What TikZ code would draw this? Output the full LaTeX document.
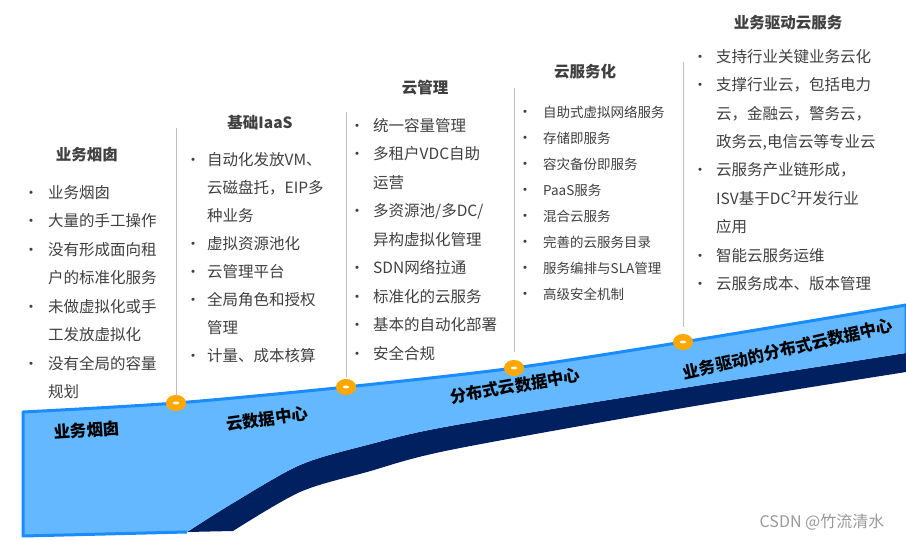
\documentclass[tikz,border=0pt]{standalone}
\usepackage{fontspec}
\setmainfont{Noto Sans CJK SC}
\usetikzlibrary{shapes.geometric}
\definecolor{lightblue}{HTML}{63B8FF}
\definecolor{edgeblue}{HTML}{1A8CFF}
\definecolor{navyblue}{HTML}{002060}
\definecolor{markorange}{HTML}{FFA800}
\definecolor{txt}{HTML}{404040}
\definecolor{sepgray}{HTML}{BFBFBF}
\newcommand\bulletmark{{\fontsize{15}{15}\selectfont •}}
\newcommand\bi[1]{\makebox[0pt][c]{\bulletmark}\hspace*{#1}}
\newcommand\ci[1]{\hspace*{#1}}
\begin{document}
\begin{tikzpicture}[x=1pt,y=-1pt,
  ttl/.style={font=\bfseries\fontsize{15.5}{18}\selectfont, text=txt, inner sep=0},
  col/.style={anchor=north west, align=left, inner sep=0, text=txt},
  rlab/.style={font=\bfseries\fontsize{16.5}{18}\selectfont, text=black, inner sep=0},
  marker/.style={ellipse, draw=markorange, fill=white, line width=6.5pt, minimum width=13.5pt, minimum height=9.5pt, inner sep=0},
  sepline/.style={draw=sepgray, line width=1pt}]
\fill[white] (0,0) rectangle (906,540);
\useasboundingbox (0,0) rectangle (906,540);
% ribbon key points
\coordinate (p0) at (23,412);
\coordinate (p1) at (176,403);
\coordinate (p2) at (346,387);
\coordinate (p3) at (514,368);
\coordinate (p4) at (683,342);
\coordinate (p5) at (906,305);
\coordinate (r1) at (906,353);
\coordinate (b1) at (187,532);
\coordinate (b0) at (23,536);
% navy under-band
\fill[navyblue] plot[smooth] coordinates {(906,353)(683,388)(450,426)(367,445)(300,465)(233,503)(187,532)}
  -- (233,531) -- plot[smooth] coordinates {(233,531)(300,492)(367,472)(450,450)(683,408)(906,372)} -- cycle;
% light blue band
\fill[lightblue] plot[smooth] coordinates {(p0)(p1)(p2)(p3)(p4)(p5)} -- (r1)
  -- plot[smooth] coordinates {(906,353)(683,388)(450,426)(367,445)(300,465)(233,503)(187,532)}
  -- (b0) -- cycle;
\draw[edgeblue, line width=3pt, line join=round] (b1) -- (b0) -- plot[smooth] coordinates {(p0)(p1)(p2)(p3)(p4)(p5)} -- (r1);
% markers
\node[marker] (m1) at (p1) {};
\node[marker] (m2) at (p2) {};
\node[marker] (m3) at (p3) {};
\node[marker] (m4) at (p4) {};
% separators
\coordinate (s1) at (176,128);
\coordinate (s2) at (346,112);
\coordinate (s3) at (514,88);
\coordinate (s4) at (683,62);
\draw[sepline] (s1) -- (m1.north);
\draw[sepline, shorten >=2pt] (s2) -- (m2.north);
\draw[sepline, shorten >=8pt] (s3) -- (m3.north);
\draw[sepline, shorten >=7pt] (s4) -- (m4.north);
% ribbon labels
\node[rlab, rotate=4] (l1) at (87,430) {业务烟囱};
\node[rlab, rotate=8] (l2) at (267,419) {云数据中心};
\node[rlab, rotate=10] (l3) at (515,386) {分布式云数据中心};
\node[rlab, rotate=13] (l4) at (788,349) {业务驱动的分布式云数据中心};
% titles
\node[ttl] (t1) at (87,155) {业务烟囱};
\node[ttl] (t2) at (260,123) {基础IaaS};
\node[ttl] (t3) at (425,88) {云管理};
\node[ttl] (t4) at (585,72) {云服务化};
\node[ttl] (t5) at (788,23) {业务驱动云服务};
% columns
\node[col, font=\fontsize{15.5}{28.5}\selectfont] (c1) at (31,185) {%
\bi{17pt}业务烟囱\\
\bi{17pt}大量的手工操作\\
\bi{17pt}没有形成面向租\\
\ci{17pt}户的标准化服务\\
\bi{17pt}未做虚拟化或手\\
\ci{17pt}工发放虚拟化\\
\bi{17pt}没有全局的容量\\
\ci{17pt}规划};
\node[col, font=\fontsize{15.5}{28}\selectfont] (c2) at (193,152) {%
\bi{14pt}自动化发放VM、\\
\ci{14pt}云磁盘托，EIP多\\
\ci{14pt}种业务\\
\bi{14pt}虚拟资源池化\\
\bi{14pt}云管理平台\\
\bi{14pt}全局角色和授权\\
\ci{14pt}管理\\
\bi{14pt}计量、成本核算};
\node[col, font=\fontsize{15.5}{28.5}\selectfont] (c3) at (357,118) {%
\bi{16pt}统一容量管理\\
\bi{16pt}多租户VDC自助\\
\ci{16pt}运营\\
\bi{16pt}多资源池/多DC/\\
\ci{16pt}异构虚拟化管理\\
\bi{16pt}SDN网络拉通\\
\bi{16pt}标准化的云服务\\
\bi{16pt}基本的自动化部署\\
\bi{16pt}安全合规};
\node[col, font=\fontsize{13.5}{26}\selectfont] (c4) at (525,106) {%
\bi{18pt}自助式虚拟网络服务\\
\bi{18pt}存储即服务\\
\bi{18pt}容灾备份即服务\\
\bi{18pt}PaaS服务\\
\bi{18pt}混合云服务\\
\bi{18pt}完善的云服务目录\\
\bi{18pt}服务编排与SLA管理\\
\bi{18pt}高级安全机制};
\node[col, font=\fontsize{15.5}{28.4}\selectfont] (c5) at (700,49) {%
\bi{16pt}支持行业关键业务云化\\
\bi{16pt}支撑行业云，包括电力\\
\ci{16pt}云，金融云，警务云，\\
\ci{16pt}政务云,电信云等专业云\\
\bi{16pt}云服务产业链形成，\\
\ci{16pt}ISV基于DC²开发行业\\
\ci{16pt}应用\\
\bi{16pt}智能云服务运维\\
\bi{16pt}云服务成本、版本管理};
% watermark
\node[text=black!40, font=\fontsize{16}{18}\selectfont, inner sep=0] (wm) at (822,522) {CSDN @竹流清水};
\end{tikzpicture}
\end{document}
